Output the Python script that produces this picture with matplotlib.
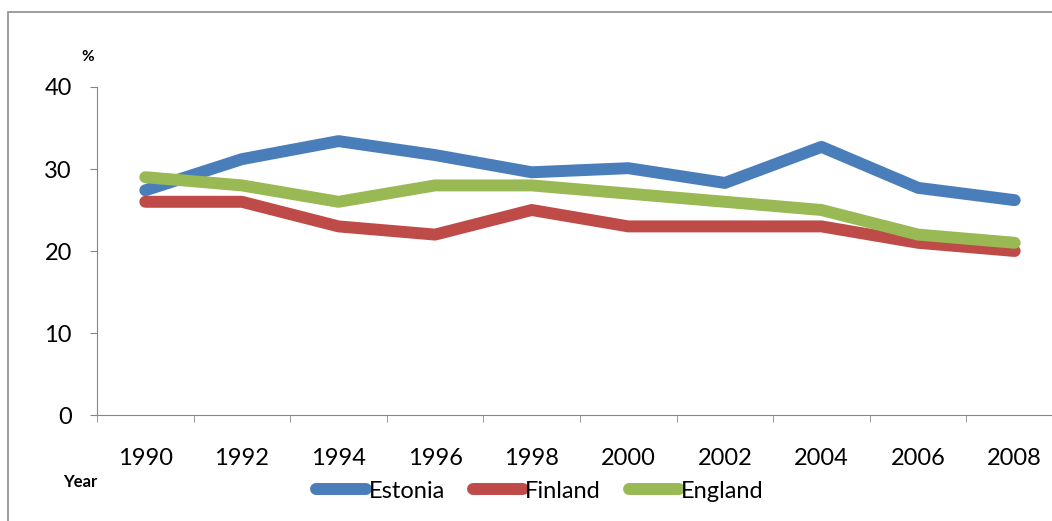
import matplotlib.pyplot as plt
from matplotlib.patches import Rectangle

years = ["1990", "1992", "1994", "1996", "1998", "2000", "2002", "2004", "2006", "2008"]
estonia = [27.4, 31.2, 33.4, 31.7, 29.6, 30.1, 28.3, 32.7, 27.7, 26.2]
finland = [26, 26, 23, 22, 25, 23, 23, 23, 21, 20]
england = [29, 28, 26, 28, 28, 27, 26, 25, 22, 21]

plt.rcParams['font.family'] = ['Lato', 'DejaVu Sans']

fig = plt.figure(figsize=(10.52, 5.21), dpi=100)
fig.patches.append(Rectangle((8 / 1052, -0.1), 1.2, 1 - 12 / 521 + 0.1, transform=fig.transFigure,
                             fill=False, edgecolor='#8c8c8c', linewidth=1.2))

ax = fig.add_axes([97 / 1052, 1 - 415 / 521, 966 / 1052, 328 / 521])
x = list(range(len(years)))
ax.plot(x, estonia, color='#4A7EBB', linewidth=8.6, label="Estonia", solid_capstyle='round')
ax.plot(x, finland, color='#BE4B48', linewidth=8.6, label="Finland", solid_capstyle='round')
ax.plot(x, england, color='#98B954', linewidth=8.6, label="England", solid_capstyle='round')

ax.set_xlim(-0.5, len(years) - 0.5)
ax.set_ylim(0, 40)
ax.set_yticks([0, 10, 20, 30, 40])
ax.set_xticks(x)
ax.set_xticklabels(years)
ax.set_xticks([i - 0.5 for i in range(len(years) + 1)], minor=True)
ax.tick_params(axis='x', which='major', length=0, pad=24, labelsize=17)
ax.tick_params(axis='x', which='minor', length=5, color='#868686')
ax.tick_params(axis='y', length=5, color='#868686', pad=13, labelsize=17)
for s in ['top', 'right']:
    ax.spines[s].set_visible(False)
for s in ['left', 'bottom']:
    ax.spines[s].set_color('#868686')
ax.patch.set_alpha(0)

fig.text(88 / 1052, 1 - 57 / 521, "%", fontsize=11, fontweight='bold', ha='center', va='center')
fig.text(80 / 1052, 1 - 482 / 521, "Year", fontsize=12, fontweight='bold', ha='center', va='center')

fig.legend(loc='center', bbox_to_anchor=(540 / 1052, 1 - 491 / 521), ncol=3, frameon=False,
           fontsize=17, handlelength=2.1, handletextpad=0.1, columnspacing=1.2)

fig.savefig("out.png", dpi=100)
